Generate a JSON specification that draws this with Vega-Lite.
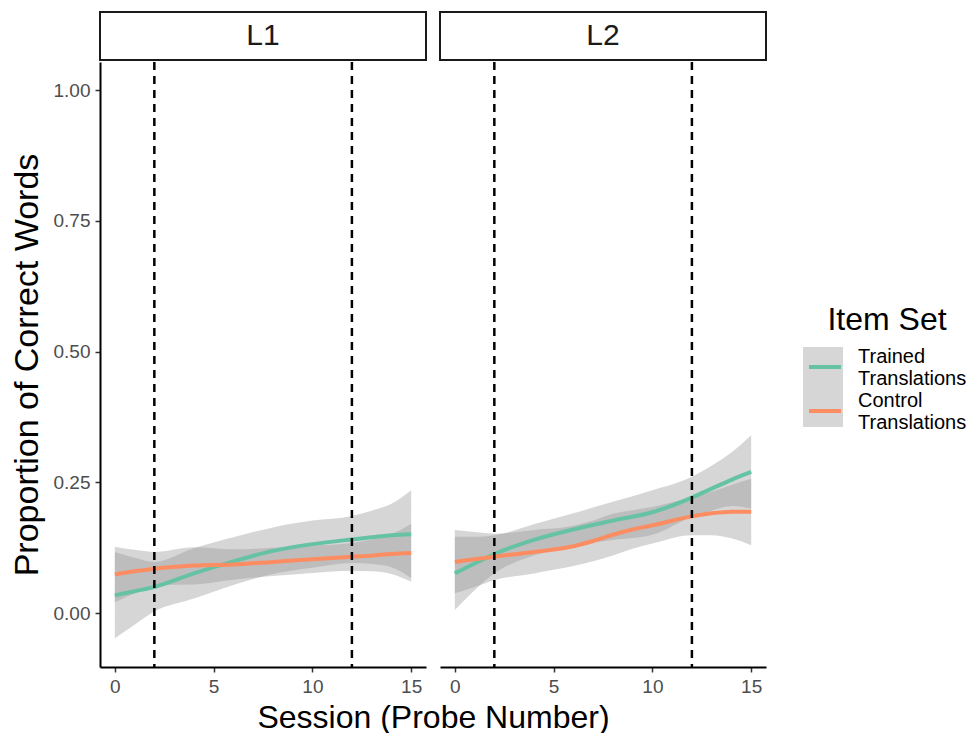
{
  "$schema": "https://vega.github.io/schema/vega-lite/v6.json",
  "padding": {"left": 10, "top": 11, "right": 4, "bottom": 4},
  "config": {
    "font": "Liberation Sans",
    "view": {"stroke": null},
    "axis": {"grid": false, "domainColor": "#000000", "domainWidth": 2, "tickColor": "#333333", "tickWidth": 1.5, "tickSize": 5, "labelColor": "#4d4d4d", "labelFontSize": 19, "labelPadding": 5, "titleFontWeight": "normal", "titleColor": "#000000", "titleFontSize": 32},
    "legend": {"padding": 0}
  },
  "datasets": {
    "strips": [{"panel": "L1"}, {"panel": "L2"}],
    "phases": [{"session": 2}, {"session": 12}],
    "smooth": [
      {"panel": "L1", "set": "Trained Translations", "session": 0, "fit": 0.034, "lo": -0.048, "hi": 0.117},
      {"panel": "L1", "set": "Trained Translations", "session": 1, "fit": 0.042, "lo": -0.022, "hi": 0.106},
      {"panel": "L1", "set": "Trained Translations", "session": 2, "fit": 0.050, "lo": 0.003, "hi": 0.098},
      {"panel": "L1", "set": "Trained Translations", "session": 4, "fit": 0.076, "lo": 0.028, "hi": 0.124},
      {"panel": "L1", "set": "Trained Translations", "session": 6, "fit": 0.099, "lo": 0.054, "hi": 0.145},
      {"panel": "L1", "set": "Trained Translations", "session": 8, "fit": 0.119, "lo": 0.075, "hi": 0.164},
      {"panel": "L1", "set": "Trained Translations", "session": 10, "fit": 0.132, "lo": 0.087, "hi": 0.177},
      {"panel": "L1", "set": "Trained Translations", "session": 12, "fit": 0.141, "lo": 0.096, "hi": 0.186},
      {"panel": "L1", "set": "Trained Translations", "session": 13, "fit": 0.145, "lo": 0.094, "hi": 0.196},
      {"panel": "L1", "set": "Trained Translations", "session": 14, "fit": 0.149, "lo": 0.088, "hi": 0.209},
      {"panel": "L1", "set": "Trained Translations", "session": 15, "fit": 0.151, "lo": 0.067, "hi": 0.235},
      {"panel": "L1", "set": "Control Translations", "session": 0, "fit": 0.074, "lo": 0.021, "hi": 0.127},
      {"panel": "L1", "set": "Control Translations", "session": 1, "fit": 0.080, "lo": 0.038, "hi": 0.121},
      {"panel": "L1", "set": "Control Translations", "session": 2, "fit": 0.085, "lo": 0.054, "hi": 0.117},
      {"panel": "L1", "set": "Control Translations", "session": 4, "fit": 0.091, "lo": 0.055, "hi": 0.126},
      {"panel": "L1", "set": "Control Translations", "session": 6, "fit": 0.093, "lo": 0.064, "hi": 0.122},
      {"panel": "L1", "set": "Control Translations", "session": 8, "fit": 0.098, "lo": 0.071, "hi": 0.125},
      {"panel": "L1", "set": "Control Translations", "session": 10, "fit": 0.103, "lo": 0.077, "hi": 0.129},
      {"panel": "L1", "set": "Control Translations", "session": 12, "fit": 0.108, "lo": 0.081, "hi": 0.134},
      {"panel": "L1", "set": "Control Translations", "session": 13, "fit": 0.110, "lo": 0.080, "hi": 0.141},
      {"panel": "L1", "set": "Control Translations", "session": 14, "fit": 0.113, "lo": 0.075, "hi": 0.151},
      {"panel": "L1", "set": "Control Translations", "session": 15, "fit": 0.115, "lo": 0.060, "hi": 0.171},
      {"panel": "L2", "set": "Trained Translations", "session": 0, "fit": 0.076, "lo": 0.006, "hi": 0.146},
      {"panel": "L2", "set": "Trained Translations", "session": 1, "fit": 0.095, "lo": 0.044, "hi": 0.146},
      {"panel": "L2", "set": "Trained Translations", "session": 2, "fit": 0.113, "lo": 0.076, "hi": 0.149},
      {"panel": "L2", "set": "Trained Translations", "session": 4, "fit": 0.140, "lo": 0.110, "hi": 0.170},
      {"panel": "L2", "set": "Trained Translations", "session": 6, "fit": 0.160, "lo": 0.129, "hi": 0.191},
      {"panel": "L2", "set": "Trained Translations", "session": 8, "fit": 0.177, "lo": 0.140, "hi": 0.213},
      {"panel": "L2", "set": "Trained Translations", "session": 10, "fit": 0.193, "lo": 0.150, "hi": 0.235},
      {"panel": "L2", "set": "Trained Translations", "session": 12, "fit": 0.221, "lo": 0.184, "hi": 0.261},
      {"panel": "L2", "set": "Trained Translations", "session": 13, "fit": 0.238, "lo": 0.196, "hi": 0.282},
      {"panel": "L2", "set": "Trained Translations", "session": 14, "fit": 0.255, "lo": 0.205, "hi": 0.307},
      {"panel": "L2", "set": "Trained Translations", "session": 15, "fit": 0.270, "lo": 0.200, "hi": 0.340},
      {"panel": "L2", "set": "Control Translations", "session": 0, "fit": 0.098, "lo": 0.038, "hi": 0.159},
      {"panel": "L2", "set": "Control Translations", "session": 1, "fit": 0.103, "lo": 0.050, "hi": 0.155},
      {"panel": "L2", "set": "Control Translations", "session": 2, "fit": 0.108, "lo": 0.063, "hi": 0.152},
      {"panel": "L2", "set": "Control Translations", "session": 4, "fit": 0.117, "lo": 0.076, "hi": 0.159},
      {"panel": "L2", "set": "Control Translations", "session": 6, "fit": 0.128, "lo": 0.090, "hi": 0.167},
      {"panel": "L2", "set": "Control Translations", "session": 7, "fit": 0.138, "lo": 0.099, "hi": 0.177},
      {"panel": "L2", "set": "Control Translations", "session": 8, "fit": 0.150, "lo": 0.110, "hi": 0.190},
      {"panel": "L2", "set": "Control Translations", "session": 9, "fit": 0.160, "lo": 0.123, "hi": 0.197},
      {"panel": "L2", "set": "Control Translations", "session": 10, "fit": 0.168, "lo": 0.133, "hi": 0.203},
      {"panel": "L2", "set": "Control Translations", "session": 12, "fit": 0.185, "lo": 0.149, "hi": 0.222},
      {"panel": "L2", "set": "Control Translations", "session": 13, "fit": 0.191, "lo": 0.149, "hi": 0.232},
      {"panel": "L2", "set": "Control Translations", "session": 14, "fit": 0.194, "lo": 0.143, "hi": 0.245},
      {"panel": "L2", "set": "Control Translations", "session": 15, "fit": 0.194, "lo": 0.130, "hi": 0.257}
    ]
  },
  "columns": 2,
  "spacing": {"row": 2, "column": 14},
  "bounds": "flush",
  "concat": [
    {
      "data": {"name": "strips"},
      "transform": [{"filter": "datum.panel === 'L1'"}],
      "width": 326, "height": 48,
      "view": {"stroke": "#1a1a1a", "strokeWidth": 2, "fill": "#ffffff"},
      "mark": {"type": "text", "fontSize": 30, "color": "#1a1a1a", "align": "center", "baseline": "middle"},
      "encoding": {"text": {"field": "panel", "type": "nominal"}}
    },
    {
      "data": {"name": "strips"},
      "transform": [{"filter": "datum.panel === 'L2'"}],
      "width": 326, "height": 48,
      "view": {"stroke": "#1a1a1a", "strokeWidth": 2, "fill": "#ffffff"},
      "mark": {"type": "text", "fontSize": 30, "color": "#1a1a1a", "align": "center", "baseline": "middle"},
      "encoding": {"text": {"field": "panel", "type": "nominal"}}
    },
    {
      "width": 326, "height": 605,
      "encoding": {
        "x": {"field": "session", "type": "quantitative", "scale": {"domain": [-0.75, 15.75], "nice": false, "zero": false},
              "axis": {"values": [0, 5, 10, 15], "title": "Session (Probe Number)", "titleX": 333, "titleAlign": "center", "titlePadding": 6}}
      },
      "layer": [
        {
          "data": {"name": "smooth"},
          "transform": [{"filter": "datum.panel === 'L1'"}],
          "mark": {"type": "area", "interpolate": "monotone", "opacity": 0.4},
          "encoding": {
            "y": {"field": "lo", "type": "quantitative", "title": "Proportion of Correct Words", "scale": {"domain": [-0.103, 1.054], "nice": false, "zero": false},
                  "axis": {"values": [0, 0.25, 0.5, 0.75, 1], "format": ".2f", "titlePadding": 9, "titleFontSize": 34}},
            "y2": {"field": "hi"},
            "fill": {"field": "set", "type": "nominal", "scale": {"domain": ["Control Translations", "Trained Translations"], "range": ["#999999", "#999999"]},
                     "legend": {"orient": "none", "legendX": 703, "legendY": 335, "title": null, "labelExpr": "''", "symbolType": "square", "symbolSize": 1600, "symbolStrokeWidth": 0, "symbolOpacity": 0.4, "rowPadding": 0}}
          }
        },
        {
          "data": {"name": "smooth"},
          "transform": [{"filter": "datum.panel === 'L1'"}],
          "mark": {"type": "line", "interpolate": "monotone", "strokeWidth": 4},
          "encoding": {
            "y": {"field": "fit", "type": "quantitative", "title": "Proportion of Correct Words"},
            "stroke": {"field": "set", "type": "nominal", "scale": {"domain": ["Trained Translations", "Control Translations"], "range": ["#66c2a5", "#fc8d62"]},
                       "legend": {"orient": "none", "legendX": 707, "legendY": 293, "title": "Item Set", "titleFontSize": 32, "titleFontWeight": "normal", "titleColor": "#000000", "titleAnchor": "middle", "titleAlign": "center", "titlePadding": 12, "symbolType": "stroke", "symbolSize": 1024, "symbolStrokeWidth": 4, "labelExpr": "split(datum.label, ' ')", "labelBaseline": "bottom", "labelFontSize": 20, "labelColor": "#000000", "labelOffset": 15, "rowPadding": 2}}
          }
        },
        {
          "data": {"name": "phases"},
          "mark": {"type": "rule", "color": "#000000", "strokeWidth": 2.5, "strokeDash": [8, 6]},
          "encoding": {}
        }
      ]
    },
    {
      "width": 326, "height": 605,
      "encoding": {
        "x": {"field": "session", "type": "quantitative", "scale": {"domain": [-0.75, 15.75], "nice": false, "zero": false},
              "axis": {"values": [0, 5, 10, 15], "title": null}}
      },
      "layer": [
        {
          "data": {"name": "smooth"},
          "transform": [{"filter": "datum.panel === 'L2'"}],
          "mark": {"type": "area", "interpolate": "monotone", "opacity": 0.4},
          "encoding": {
            "y": {"field": "lo", "type": "quantitative", "scale": {"domain": [-0.103, 1.054], "nice": false, "zero": false}, "axis": null},
            "y2": {"field": "hi"},
            "fill": {"field": "set", "type": "nominal", "scale": {"domain": ["Control Translations", "Trained Translations"], "range": ["#999999", "#999999"]},
                     "legend": {"orient": "none", "legendX": 703, "legendY": 335, "title": null, "labelExpr": "''", "symbolType": "square", "symbolSize": 1600, "symbolStrokeWidth": 0, "symbolOpacity": 0.4, "rowPadding": 0}}
          }
        },
        {
          "data": {"name": "smooth"},
          "transform": [{"filter": "datum.panel === 'L2'"}],
          "mark": {"type": "line", "interpolate": "monotone", "strokeWidth": 4},
          "encoding": {
            "y": {"field": "fit", "type": "quantitative", "axis": null},
            "stroke": {"field": "set", "type": "nominal", "scale": {"domain": ["Trained Translations", "Control Translations"], "range": ["#66c2a5", "#fc8d62"]},
                       "legend": {"orient": "none", "legendX": 707, "legendY": 293, "title": "Item Set", "titleFontSize": 32, "titleFontWeight": "normal", "titleColor": "#000000", "titleAnchor": "middle", "titleAlign": "center", "titlePadding": 12, "symbolType": "stroke", "symbolSize": 1024, "symbolStrokeWidth": 4, "labelExpr": "split(datum.label, ' ')", "labelBaseline": "bottom", "labelFontSize": 20, "labelColor": "#000000", "labelOffset": 15, "rowPadding": 2}}
          }
        },
        {
          "data": {"name": "phases"},
          "mark": {"type": "rule", "color": "#000000", "strokeWidth": 2.5, "strokeDash": [8, 6]},
          "encoding": {}
        }
      ]
    }
  ]
}
